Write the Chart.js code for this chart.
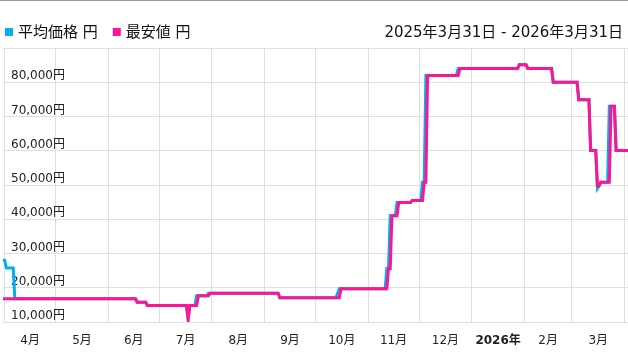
<!DOCTYPE html>
<html>
<head>
<meta charset="utf-8">
<script src="https://cdn.jsdelivr.net/npm/chart.js@4/dist/chart.umd.min.js"></script>
<style>
    body { margin: 0; background: #fff; }
</style>
</head>
<body>
<canvas id="chart" width="628" height="360"></canvas>
<script>
// range
const startDate = "2025-03-31";
const endDate = "2026-04-03";
const rangeLabel = "2025年3月31日 - 2026年3月31日";

// x axis: month boundaries and labels
const monthStarts = ["2025-04-01", "2025-05-01", "2025-06-01", "2025-07-01", "2025-08-01", "2025-09-01",
    "2025-10-01", "2025-11-01", "2025-12-01", "2026-01-01", "2026-02-01", "2026-03-01", "2026-04-01"];
const monthLabels = ["4月", "5月", "6月", "7月", "8月", "9月", "10月", "11月", "12月", "2026年", "2月", "3月"];

// y axis
const yMin = 10000;
const yMax = 90000;
const yStep = 10000;

// 平均価格 (blue)
const avgDates = ["2025-03-31", "2025-04-01", "2025-04-02", "2025-04-06", "2025-04-07", "2025-06-17", "2025-06-18",
    "2025-06-23", "2025-06-24", "2025-07-17", "2025-07-18", "2025-07-19", "2025-07-22", "2025-07-23", "2025-07-29",
    "2025-07-30", "2025-09-09", "2025-09-10", "2025-10-13", "2025-10-15", "2025-11-11", "2025-11-12", "2025-11-13",
    "2025-11-14", "2025-11-17", "2025-11-18", "2025-11-26", "2025-11-27", "2025-12-02", "2025-12-03", "2025-12-04",
    "2025-12-05", "2025-12-23", "2025-12-24", "2026-01-28", "2026-01-29", "2026-02-02", "2026-02-03", "2026-02-17",
    "2026-02-18", "2026-03-04", "2026-03-05", "2026-03-11", "2026-03-12", "2026-03-15", "2026-03-16", "2026-03-17",
    "2026-03-18", "2026-03-22", "2026-03-23", "2026-03-26", "2026-03-27", "2026-04-03"];
const avgPrices = [28000, 28000, 25800, 25800, 16800, 16800, 15800,
    15800, 14800, 14800, 10800, 14800, 14800, 17700, 17700,
    18400, 18400, 17100, 17100, 19700, 19700, 25600, 25600,
    41000, 41000, 44900, 44900, 45500, 45500, 50800, 50800,
    82000, 82000, 84000, 84000, 85100, 85100, 84000, 84000,
    80000, 80000, 74900, 74900, 60100, 60100, 49000, 49800,
    50800, 50800, 73000, 73000, 60100, 60100];

// 最安値 (pink)
const minDates = ["2025-03-31", "2025-06-17", "2025-06-18", "2025-06-23", "2025-06-24", "2025-07-17", "2025-07-18",
    "2025-07-19", "2025-07-23", "2025-07-24", "2025-07-30", "2025-07-31", "2025-09-09", "2025-09-10", "2025-10-15",
    "2025-10-16", "2025-11-12", "2025-11-13", "2025-11-14", "2025-11-15", "2025-11-18", "2025-11-19", "2025-11-26",
    "2025-11-27", "2025-12-03", "2025-12-04", "2025-12-05", "2025-12-06", "2025-12-24", "2025-12-25", "2026-01-28",
    "2026-01-29", "2026-02-02", "2026-02-03", "2026-02-17", "2026-02-18", "2026-03-04", "2026-03-05", "2026-03-11",
    "2026-03-12", "2026-03-15", "2026-03-16", "2026-03-17", "2026-03-18", "2026-03-23", "2026-03-24", "2026-03-26",
    "2026-03-27", "2026-04-03"];
const minPrices = [16800, 16800, 15800, 15800, 14800, 14800, 10800,
    14800, 14800, 17700, 17700, 18400, 18400, 17100, 17100,
    19700, 19700, 25600, 25600, 41000, 41000, 44900, 44900,
    45500, 45500, 50800, 50800, 82000, 82000, 84000, 84000,
    85100, 85100, 84000, 84000, 80000, 80000, 74900, 74900,
    60100, 60100, 49800, 49800, 50800, 50800, 73000, 73000,
    60100, 60100];

const FONT = '"DejaVu Sans", "Noto Sans CJK JP", sans-serif';
const BLUE = "#00b0f0";
const PINK = "#ff1493";
const GRID = "#dfdfdf";

// days since startDate
function dayOf(s) {
    const p = (d) => { const a = d.split("-"); return Date.UTC(+a[0], +a[1] - 1, +a[2]); };
    return Math.round((p(s) - p(startDate)) / 86400000);
}
const toPoints = (dates, prices) => dates.map((d, i) => ({ x: dayOf(d), y: prices[i] }));

const gridTicks = monthStarts.map(dayOf);
const labelTicks = monthLabels.map((l, i) => (gridTicks[i] + gridTicks[i + 1]) / 2);

const noPadding = (s) => { s.paddingLeft = 0; s.paddingRight = 0; s.paddingTop = 0; s.paddingBottom = 0; };

// legend + date range + top rule
const header = {
    id: "header",
    afterDraw(chart) {
        const ctx = chart.ctx;
        ctx.save();
        ctx.fillStyle = "#9a9a9a";
        ctx.fillRect(0, 0, chart.width, 1);
        ctx.font = "15px " + FONT;
        ctx.textBaseline = "middle";
        ctx.textAlign = "left";
        let x = 5;
        chart.data.datasets.forEach((ds) => {
            ctx.fillStyle = ds.borderColor;
            ctx.fillRect(x, 28, 8, 8);
            ctx.fillStyle = "#111";
            ctx.fillText(ds.label, x + 13, 33);
            x += 13 + ctx.measureText(ds.label).width + 15;
        });
        ctx.textAlign = "right";
        ctx.fillText(rangeLabel, 623, 33);
        ctx.restore();
    },
};

new Chart(document.getElementById("chart"), {
    type: "line",
    data: {
        datasets: [
            {
                label: "平均価格 円",
                data: toPoints(avgDates, avgPrices),
                borderColor: BLUE,
                backgroundColor: BLUE,
                borderWidth: 3,
                order: 1,
            },
            {
                label: "最安値 円",
                data: toPoints(minDates, minPrices),
                borderColor: PINK,
                backgroundColor: PINK,
                borderWidth: 3,
                order: 0,
            },
        ],
    },
    options: {
        responsive: false,
        animation: false,
        layout: { padding: { left: 3, top: 48, right: 0, bottom: 0 } },
        elements: { point: { radius: 0, hoverRadius: 0 }, line: { tension: 0 } },
        plugins: { legend: { display: false }, tooltip: { enabled: false } },
        scales: {
            x: {
                type: "linear",
                position: "bottom",
                min: 0,
                max: dayOf(endDate),
                afterBuildTicks: (s) => { s.ticks = gridTicks.map((v) => ({ value: v })); },
                ticks: { display: false },
                grid: { color: GRID, drawTicks: false },
                border: { display: false },
                afterFit: (s) => { s.height = 0; noPadding(s); },
            },
            xl: {
                type: "linear",
                position: "bottom",
                min: 0,
                max: dayOf(endDate),
                afterBuildTicks: (s) => { s.ticks = labelTicks.map((v) => ({ value: v })); },
                ticks: {
                    autoSkip: false,
                    maxRotation: 0,
                    padding: 12,
                    color: "#222",
                    callback: (v, i) => monthLabels[i],
                    font: (c) => ({
                        family: FONT,
                        size: 12,
                        weight: c.tick && monthLabels[c.index].includes("年") ? "bold" : "normal",
                    }),
                },
                grid: { display: false, drawTicks: false },
                border: { display: false },
                afterFit: (s) => { s.height = 38; noPadding(s); },
            },
            y: {
                min: yMin,
                max: yMax,
                ticks: {
                    stepSize: yStep,
                    mirror: true,
                    padding: 8,
                    labelOffset: -6,
                    color: "#222",
                    font: { family: FONT, size: 12 },
                    callback: (v) => (v >= yMax ? "" : v.toLocaleString("ja-JP") + "円"),
                },
                grid: { color: GRID, drawTicks: false },
                border: { display: false },
                afterFit: (s) => { s.width = 0; noPadding(s); },
            },
        },
    },
    plugins: [header],
});
</script>
</body>
</html>
